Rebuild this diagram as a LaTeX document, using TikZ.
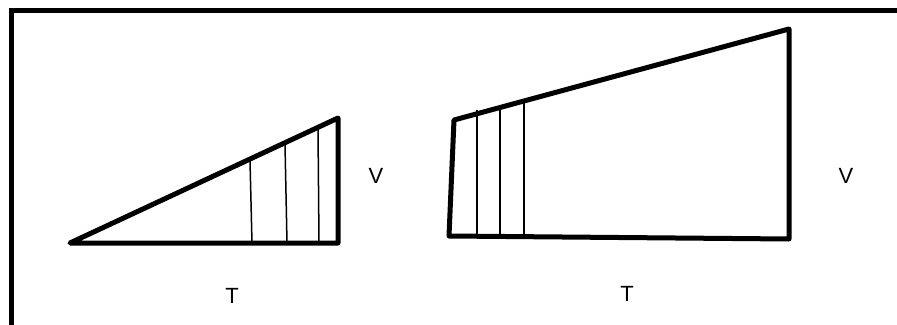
\documentclass[tikz,border=0pt]{standalone}
\usepackage{fontspec}
\setmainfont{Liberation Sans}
\begin{document}
\begin{tikzpicture}[x=1pt,y=-1pt,
  thickline/.style={line width=5pt,line join=round,line cap=round},
  thinline/.style={line width=1.5pt},
  lbl/.style={font=\fontsize{22}{24}\selectfont,inner sep=0pt}]
\useasboundingbox (0,0) rectangle (897,324);
\clip (0,0) rectangle (897,324);
% frame
\draw[line width=5pt,line join=miter] (11.5,340) -- (11.5,10) -- (910,10);
% left triangle
\coordinate (a1) at (70,243);
\coordinate (a2) at (338,243);
\coordinate (a3) at (338,118);
\draw[thinline] (250,160.7) -- (252,243);
\draw[thinline] (285,144.4) -- (287,243);
\draw[thinline] (318,129.0) -- (319,243);
\draw[thickline] (a1) -- (a2) -- (a3) -- cycle;
% right quadrilateral
\coordinate (b1) at (454,120);
\coordinate (b2) at (449,236);
\coordinate (b3) at (789,239);
\coordinate (b4) at (789,29);
\draw[thinline] (477,110) -- (477,234);
\draw[thinline] (500,107.5) -- (500,234);
\draw[thinline] (524,101.5) -- (524,234);
\draw[thickline] (b1) -- (b2) -- (b3) -- (b4) -- cycle;
% labels
\node[lbl] (v1) at (376,176) {V};
\node[lbl] (v2) at (846,176) {V};
\node[lbl] (t1) at (232,296) {T};
\node[lbl] (t2) at (627,294) {T};
\end{tikzpicture}
\end{document}
